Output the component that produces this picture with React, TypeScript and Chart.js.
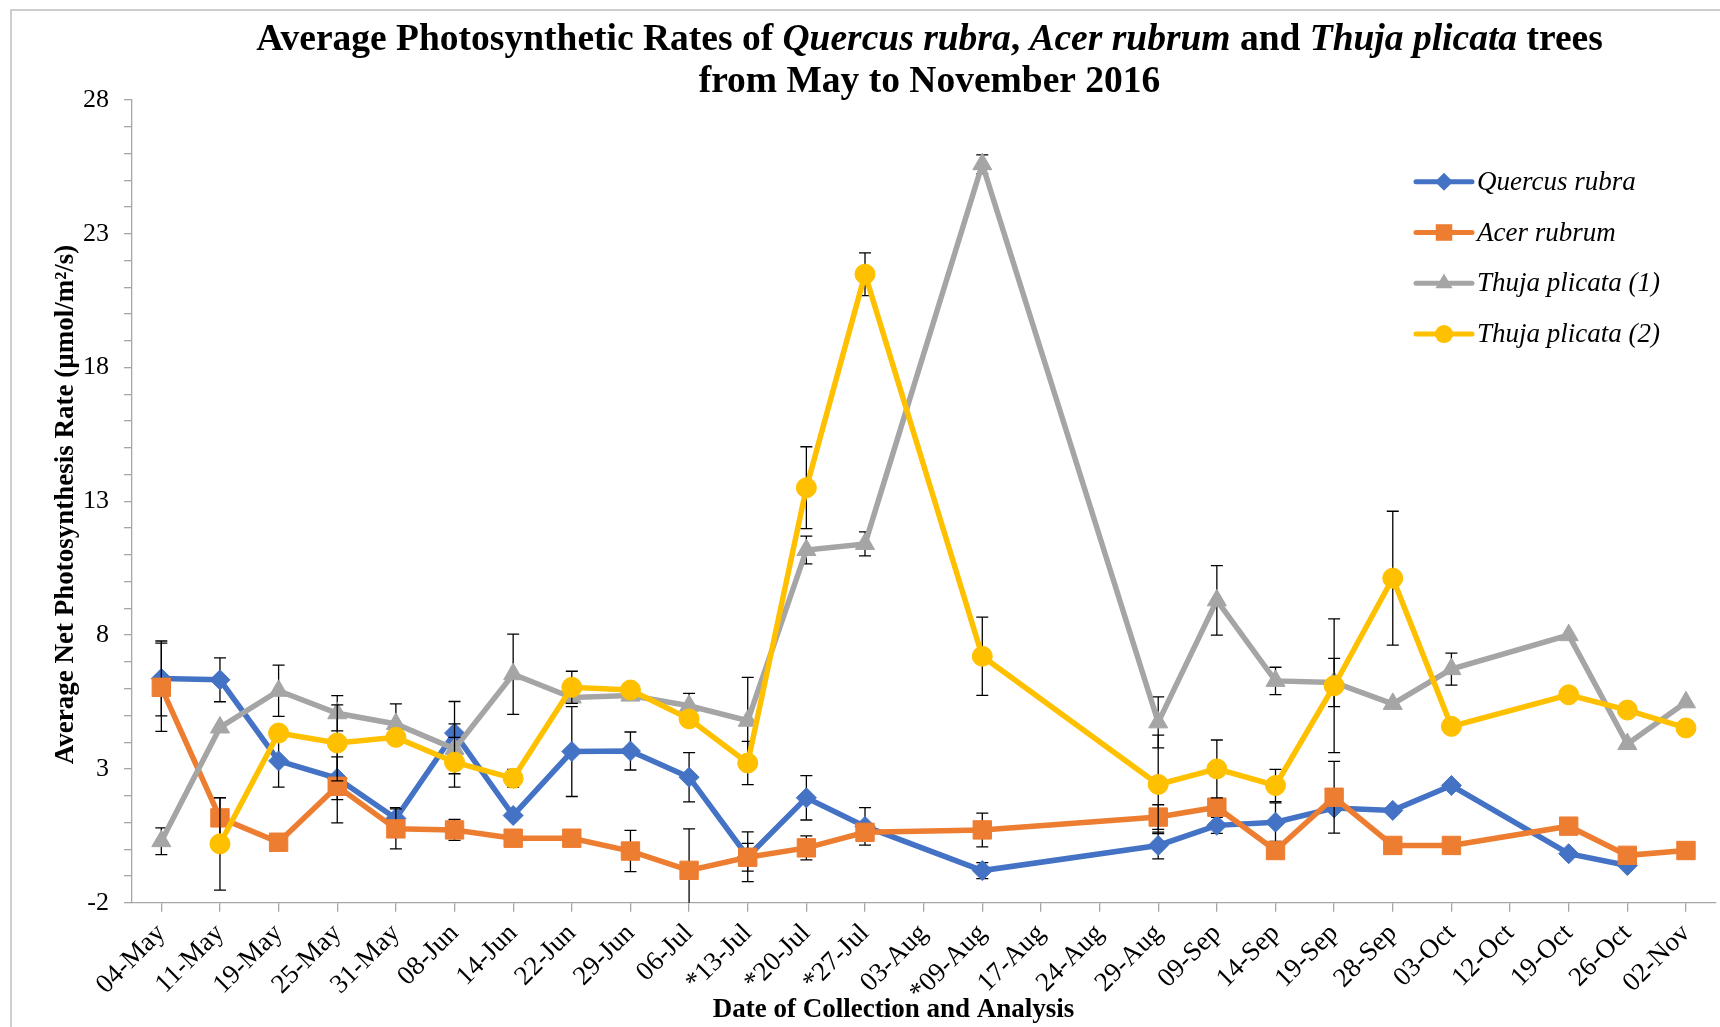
import React, { useEffect, useRef } from 'react';
import { Chart, registerables } from 'chart.js';

Chart.register(...registerables);

// ---------- data ----------
const categories = [
  '04-May', '11-May', '19-May', '25-May', '31-May', '08-Jun', '14-Jun', '22-Jun', '29-Jun', '06-Jul',
  '*13-Jul', '*20-Jul', '*27-Jul', '03-Aug', '*09-Aug', '17-Aug', '24-Aug', '29-Aug', '09-Sep', '14-Sep',
  '19-Sep', '28-Sep', '03-Oct', '12-Oct', '19-Oct', '26-Oct', '02-Nov',
];

const quercusRubra = [
  6.38, 6.33, 3.3, 2.65, 1.15, 4.34, 1.26, 3.65, 3.67, 2.69,
  -0.28, 1.92, 0.85, null, -0.8, null, null, 0.14, 0.89, 1.01,
  1.54, 1.45, 2.38, null, -0.17, -0.61, null,
];
const acerRubrum = [
  6.05, 1.17, 0.26, 2.35, 0.76, 0.72, 0.41, 0.41, -0.07, -0.79,
  -0.3, 0.05, 0.63, null, 0.72, null, null, 1.2, 1.57, -0.05,
  1.94, 0.14, 0.14, null, 0.86, -0.23, -0.05,
];
const thujaPlicata1 = [
  0.3, 4.55, 5.92, 5.08, 4.68, 3.75, 6.54, 5.67, 5.74, 5.36,
  4.8, 11.18, 11.41, null, 25.6, null, null, 4.74, 9.3, 6.29,
  6.23, 5.43, 6.73, null, 8.0, 3.93, 5.49,
];
const thujaPlicata2 = [
  null, 0.2, 4.34, 3.97, 4.18, 3.25, 2.65, 6.05, 5.95, 4.87,
  3.22, 13.51, 21.49, null, 7.21, null, null, 2.42, 3.0, 2.38,
  6.11, 10.13, 4.59, null, 5.77, 5.2, 4.53,
];

// error bar half-lengths (same units as values)
const quercusRubraErr = [
  1.4, 0.82, 0.98, 0.8, 0.4, 1.18, null, 1.68, 0.71, 0.92,
  0.93, 0.83, 0.7, null, 0.3, null, null, 0.5, 0.3, 0.72,
  null, null, null, null, null, null, null,
];
const acerRubrumErr = [
  1.65, 0.75, null, 1.37, 0.75, 0.39, null, null, 0.77, 1.55,
  0.52, 0.45, null, null, 0.63, null, null, 0.46, null, null,
  1.34, null, null, null, null, null, null,
];
const thujaPlicata1Err = [
  0.5, null, 0.96, 0.66, 0.75, 0.93, 1.5, null, null, 0.46,
  1.62, 0.52, 0.45, null, 0.35, null, null, 0.95, 1.3, 0.51,
  0.9, null, 0.6, null, null, null, null,
];
const thujaPlicata2Err = [
  null, 1.73, null, 1.42, null, 0.93, 0.33, 0.6, null, null,
  0.81, 1.53, 0.8, null, 1.46, null, null, 1.84, 1.08, 0.6,
  2.5, 2.5, null, null, null, null, null,
];

const seriesNames = ['Quercus rubra', 'Acer rubrum', 'Thuja plicata (1)', 'Thuja plicata (2)'];
const seriesColors = ['#4472C4', '#ED7D31', '#A5A5A5', '#FFC000'];
const seriesMarkers = ['rectRot', 'rect', 'triangle', 'circle'];
const seriesValues = [quercusRubra, acerRubrum, thujaPlicata1, thujaPlicata2];
const seriesErrors = [quercusRubraErr, acerRubrumErr, thujaPlicata1Err, thujaPlicata2Err];

const yMajorTicks = [28, 23, 18, 13, 8, 3, -2];

const titleLine1 = [
  { text: 'Average Photosynthetic Rates of ', italic: false },
  { text: 'Quercus rubra', italic: true },
  { text: ', ', italic: false },
  { text: 'Acer rubrum', italic: true },
  { text: ' and ', italic: false },
  { text: 'Thuja plicata', italic: true },
  { text: ' trees', italic: false },
];
const titleLine2 = [{ text: 'from May to November 2016', italic: false }];
const xAxisTitle = 'Date of Collection and Analysis';
const yAxisTitle = 'Average Net Photosynthesis Rate (\u00b5mol/m\u00b2/s)';

// ---------- styles ----------
const SERIF = '"Liberation Serif", "Times New Roman", "DejaVu Serif", serif';
const AXIS_COLOR = '#a6a6a6';
const MARKER_RADIUS = [10, 13, 11, 10];

function markerPath(ctx: CanvasRenderingContext2D, style: string, x: number, y: number, r: number) {
  ctx.beginPath();
  if (style === 'rectRot') {
    ctx.moveTo(x, y - r);
    ctx.lineTo(x + r, y);
    ctx.lineTo(x, y + r);
    ctx.lineTo(x - r, y);
    ctx.closePath();
  } else if (style === 'rect') {
    const s = r * Math.SQRT1_2;
    ctx.rect(x - s, y - s, 2 * s, 2 * s);
  } else if (style === 'triangle') {
    for (let k = 0; k < 3; k++) {
      const a = (k * 2 * Math.PI) / 3;
      const px = x + Math.sin(a) * r;
      const py = y - Math.cos(a) * r;
      if (k === 0) ctx.moveTo(px, py);
      else ctx.lineTo(px, py);
    }
    ctx.closePath();
  } else {
    ctx.arc(x, y, r, 0, Math.PI * 2);
  }
}

function drawRuns(ctx: CanvasRenderingContext2D, runs: { text: string; italic: boolean }[], cx: number, baseline: number, size: number) {
  const fonts = runs.map((r) => `${r.italic ? 'italic ' : ''}bold ${size}px ${SERIF}`);
  let total = 0;
  const widths = runs.map((r, i) => {
    ctx.font = fonts[i];
    const w = ctx.measureText(r.text).width;
    total += w;
    return w;
  });
  let x = cx - total / 2;
  ctx.textAlign = 'left';
  ctx.textBaseline = 'alphabetic';
  runs.forEach((r, i) => {
    ctx.font = fonts[i];
    ctx.fillText(r.text, x, baseline);
    x += widths[i];
  });
}

const decorPlugin = {
  id: 'decor',
  beforeDraw(chart: any) {
    const ctx = chart.ctx as CanvasRenderingContext2D;
    ctx.save();
    ctx.fillStyle = '#ffffff';
    ctx.fillRect(0, 0, chart.width, chart.height);
    ctx.strokeStyle = '#bfbfbf';
    ctx.lineWidth = 1.5;
    ctx.strokeRect(11, 10, chart.width + 20, chart.height + 20);
    ctx.restore();
  },
  beforeDatasetDraw(chart: any, args: any) {
    const idx = args.index;
    const ds = chart.data.datasets[idx];
    const errs = seriesErrors[idx];
    const yScale = chart.scales.y;
    const area = chart.chartArea;
    const ctx = chart.ctx as CanvasRenderingContext2D;
    ctx.save();
    ctx.beginPath();
    ctx.rect(area.left, area.top - 20, area.right - area.left, area.bottom - area.top + 20);
    ctx.clip();
    ctx.strokeStyle = '#000000';
    ctx.lineWidth = 1.3;
    args.meta.data.forEach((pt: any, i: number) => {
      const v = ds.data[i];
      const e = errs[i];
      if (v == null || e == null) return;
      const x = pt.x;
      const yt = yScale.getPixelForValue(v + e);
      const yb = yScale.getPixelForValue(v - e);
      ctx.beginPath();
      ctx.moveTo(x, yt);
      ctx.lineTo(x, yb);
      ctx.moveTo(x - 6, yt);
      ctx.lineTo(x + 6, yt);
      ctx.moveTo(x - 6, yb);
      ctx.lineTo(x + 6, yb);
      ctx.stroke();
    });
    ctx.restore();
  },
  afterDraw(chart: any) {
    const ctx = chart.ctx as CanvasRenderingContext2D;
    ctx.save();
    ctx.fillStyle = '#000000';
    // title
    drawRuns(ctx, titleLine1, 929.5, 50, 37.5);
    drawRuns(ctx, titleLine2, 929.5, 92, 37.5);
    // x axis title
    ctx.font = `bold 27px ${SERIF}`;
    ctx.textAlign = 'center';
    ctx.textBaseline = 'alphabetic';
    ctx.fillText(xAxisTitle, 893.5, 1017);
    // y axis title
    ctx.save();
    ctx.translate(73, 504.5);
    ctx.rotate(-Math.PI / 2);
    ctx.fillText(yAxisTitle, 0, 0);
    ctx.restore();
    // legend
    const lx0 = 1416;
    const lx1 = 1472;
    seriesNames.forEach((name, i) => {
      const y = 181.7 + 50.8 * i;
      ctx.strokeStyle = seriesColors[i];
      ctx.lineWidth = 5;
      ctx.lineCap = 'round';
      ctx.beginPath();
      ctx.moveTo(lx0, y);
      ctx.lineTo(lx1, y);
      ctx.stroke();
      ctx.fillStyle = seriesColors[i];
      markerPath(ctx, seriesMarkers[i], (lx0 + lx1) / 2, y, MARKER_RADIUS[i] * 0.9);
      ctx.fill();
      ctx.fillStyle = '#000000';
      ctx.font = `italic 27px ${SERIF}`;
      ctx.textAlign = 'left';
      ctx.textBaseline = 'middle';
      ctx.fillText(name, 1477, y + 1);
    });
    ctx.restore();
  },
};

export default function App() {
  const canvasRef = useRef<HTMLCanvasElement | null>(null);

  useEffect(() => {
    if (!canvasRef.current) return;
    const datasets = seriesNames.map((name, i) => ({
      label: name,
      data: seriesValues[i],
      borderColor: seriesColors[i],
      backgroundColor: seriesColors[i],
      borderWidth: 5.5,
      pointStyle: seriesMarkers[i] as any,
      pointRadius: MARKER_RADIUS[i],
      pointBackgroundColor: seriesColors[i],
      pointBorderColor: seriesColors[i],
      pointBorderWidth: 1,
      spanGaps: true,
      tension: 0,
      order: 4 - i,
    }));

    const chart = new Chart(canvasRef.current, {
      type: 'line',
      data: { labels: categories, datasets },
      plugins: [decorPlugin],
      options: {
        animation: false,
        responsive: false,
        devicePixelRatio: 1,
        layout: { autoPadding: false, padding: { top: 100, right: 4.7, left: 0, bottom: 0 } },
        plugins: {
          legend: { display: false },
          title: { display: false },
          tooltip: { enabled: false },
        },
        scales: {
          x: {
            type: 'category',
            offset: true,
            grid: {
              display: true,
              drawOnChartArea: false,
              offset: false,
              tickLength: 9,
              color: AXIS_COLOR,
              lineWidth: 1.3,
            },
            border: { display: true, color: AXIS_COLOR, width: 1.3 },
            ticks: {
              autoSkip: false,
              maxRotation: 45,
              minRotation: 45,
              color: '#000000',
              padding: 6,
              font: { family: SERIF, size: 27 },
            },
            afterFit: (s: any) => {
              s.height = 124.3;
              s.paddingLeft = 0;
              s.paddingRight = 0;
            },
          },
          y: {
            type: 'linear',
            min: -2,
            max: 28,
            ticks: {
              stepSize: 1,
              autoSkip: false,
              color: '#000000',
              padding: 15,
              font: { family: SERIF, size: 26 },
              callback: (v: any) => (yMajorTicks.includes(Number(v)) ? String(v) : ''),
            },
            grid: {
              drawOnChartArea: false,
              tickLength: 8,
              color: AXIS_COLOR,
              lineWidth: 1.3,
            },
            border: { display: true, color: AXIS_COLOR, width: 1.3 },
            afterFit: (s: any) => {
              s.width = 132;
            },
          },
        },
      } as any,
    });
    return () => chart.destroy();
  }, []);

  return (
    <div style={{ position: 'fixed', left: 0, top: 0, width: 1720, height: 1027, background: '#fff' }}>
      <canvas ref={canvasRef} width={1720} height={1027} style={{ display: 'block' }} />
    </div>
  );
}
